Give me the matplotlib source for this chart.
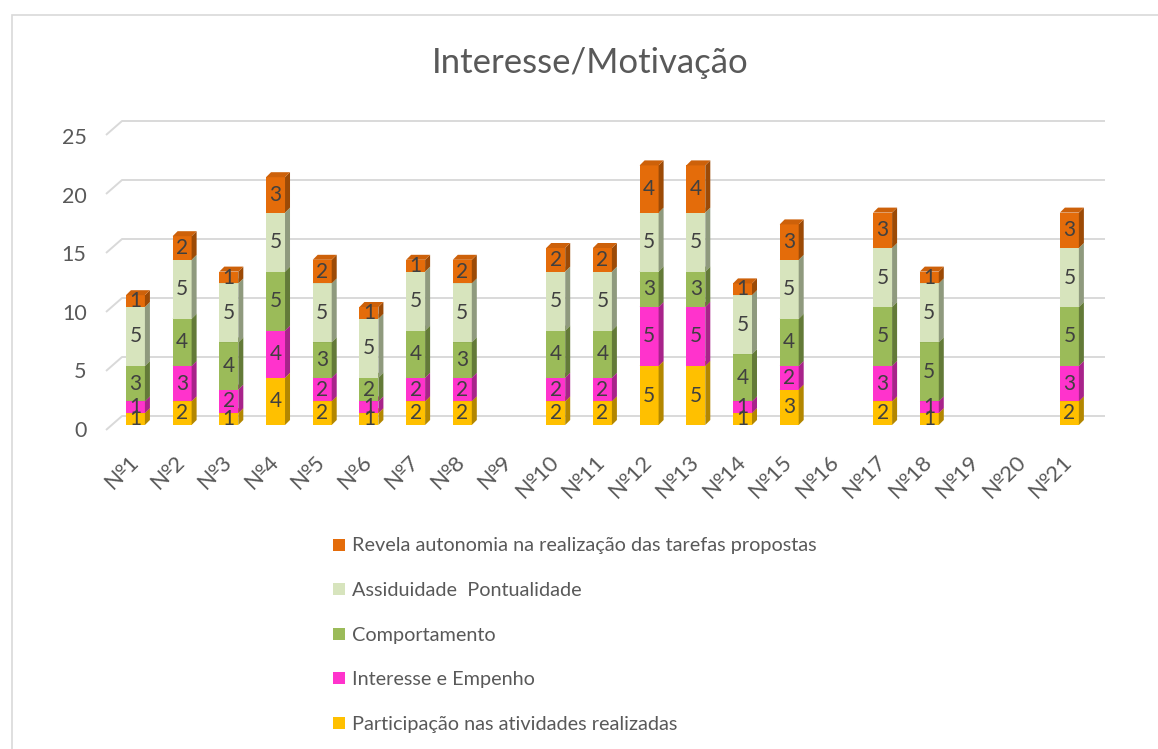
import matplotlib
matplotlib.use("Agg")
import matplotlib.pyplot as plt
from matplotlib.patches import Rectangle, Polygon
import numpy as np

plt.rcParams['font.family'] = ['Lato', 'DejaVu Sans']

# ---- data -------------------------------------------------------------
alunos = ['№%d' % i for i in range(1, 22)]
participacao = [1, 2, 1, 4, 2, 1, 2, 2, 0, 2, 2, 5, 5, 1, 3, 0, 2, 1, 0, 0, 2]
interesse    = [1, 3, 2, 4, 2, 1, 2, 2, 0, 2, 2, 5, 5, 1, 2, 0, 3, 1, 0, 0, 3]
comportam    = [3, 4, 4, 5, 3, 2, 4, 3, 0, 4, 4, 3, 3, 4, 4, 0, 5, 5, 0, 0, 5]
assiduidade  = [5, 5, 5, 5, 5, 5, 5, 5, 0, 5, 5, 5, 5, 5, 5, 0, 5, 5, 0, 0, 5]
autonomia    = [1, 2, 1, 3, 2, 1, 1, 2, 0, 2, 2, 4, 4, 1, 3, 0, 3, 1, 0, 0, 3]
yticks = [0, 5, 10, 15, 20, 25]

series_names = ['Participação nas atividades realizadas',
                'Interesse e Empenho',
                'Comportamento',
                'Assiduidade  Pontualidade',
                'Revela autonomia na realização das tarefas propostas']
series = [participacao, interesse, comportam, assiduidade, autonomia]

# front / side / top colours of each series
front = ['#FFC000', '#FF33CC', '#9BBB59', '#D7E4BD', '#E46C0A']
side  = ['#B38700', '#A8238A', '#637A38', '#8F9A7E', '#9C4A06']
top   = ['#E6AD00', '#E62EB8', '#8BA850', '#C2CDAA', '#CD610A']

TXT = '#595959'
W, H = 1158, 749

fig = plt.figure(figsize=(W / 100, H / 100), dpi=100)

# chart frame (runs off the right/bottom edge like the original)
fig.patches.append(Rectangle((12 / W, -0.1), 1.2, 1 - 15 / H + 0.1,
                             transform=fig.transFigure, fill=False,
                             edgecolor='#D9D9D9', lw=1.2))

fig.text(590 / W, 1 - 73 / H, 'Interesse/Motivação', ha='center',
         va='baseline', fontsize=25, color=TXT)

# plotting area in pixels (plane of the bars)
left, right, topp, bottom = 106, 1089, 130, 425
ax = fig.add_axes([left / W, 1 - bottom / H, (right - left) / W, (bottom - topp) / H])
xmin, xmax = -0.63, 20.42
ax.set_xlim(xmin, xmax)
ax.set_ylim(0, 25)
ax.patch.set_alpha(0)
for s in ax.spines.values():
    s.set_visible(False)

# value axis labels sit on the front plane, a few pixels lower
yax = fig.add_axes([left / W, 1 - 429 / H, 0.01, (429 - 136) / H])
yax.set_ylim(0, 25)
yax.set_xticks([])
yax.set_yticks(yticks)
yax.set_yticklabels([str(v) for v in yticks], fontsize=15.5, color=TXT)
yax.tick_params(axis='y', length=0, pad=14)
yax.patch.set_alpha(0)
for s in yax.spines.values():
    s.set_visible(False)

ppx = (right - left) / (xmax - xmin)      # pixels per category
ppy = (bottom - topp) / 25.0              # pixels per unit

# back wall gridlines with the 3d slant on the left
gdx, gup, gdown = 16 / ppx, 9 / ppy, 5 / ppy
for v in yticks:
    ax.plot([xmin, xmin + gdx, xmax + gdx], [v - gdown, v + gup, v + gup],
            color='#D9D9D9', lw=1.4, clip_on=False, zorder=1,
            solid_capstyle='butt')

# 3d stacked bars
bw = 19 / ppx
ddx, ddy = 5 / ppx, 5 / ppy
x = np.arange(len(alunos))
base = np.zeros(len(alunos))
for k, vals in enumerate(series):
    vals = np.array(vals, dtype=float)
    ax.bar(x, vals, bw, bottom=base, color=front[k], lw=0, zorder=3)
    for i in range(len(x)):
        if vals[i] == 0:
            continue
        b, h = base[i], vals[i]
        xr, xl = x[i] + bw / 2, x[i] - bw / 2
        ax.add_patch(Polygon([(xr, b), (xr + ddx, b + ddy), (xr + ddx, b + h + ddy), (xr, b + h)],
                             closed=True, facecolor=side[k], lw=0, zorder=3))
        ax.add_patch(Polygon([(xl, b + h), (xr, b + h), (xr + ddx, b + h + ddy), (xl + ddx, b + h + ddy)],
                             closed=True, facecolor=top[k], lw=0, zorder=3))
        ax.text(x[i], b + h / 2, '%d' % h, ha='center', va='center',
                fontsize=15, color='#404040', zorder=5)
    base = base + vals

ax.set_yticks([])
ax.set_xticks(x)
ax.set_xticklabels(alunos, rotation=45, ha='right', va='center',
                   rotation_mode='anchor', fontsize=16, color=TXT)
ax.tick_params(axis='x', length=0, pad=24)

# legend, top entry is the last series
for j, k in enumerate(range(len(series) - 1, -1, -1)):
    yc = 544.5 + j * 44.6
    fig.patches.append(Rectangle((333 / W, 1 - (yc + 6) / H), 12 / W, 12 / H,
                                 transform=fig.transFigure,
                                 facecolor=front[k], lw=0))
    fig.text(352 / W, 1 - yc / H, series_names[k], ha='left', va='center_baseline',
             fontsize=14.3, color=TXT)

fig.savefig('out.png', dpi=100)
